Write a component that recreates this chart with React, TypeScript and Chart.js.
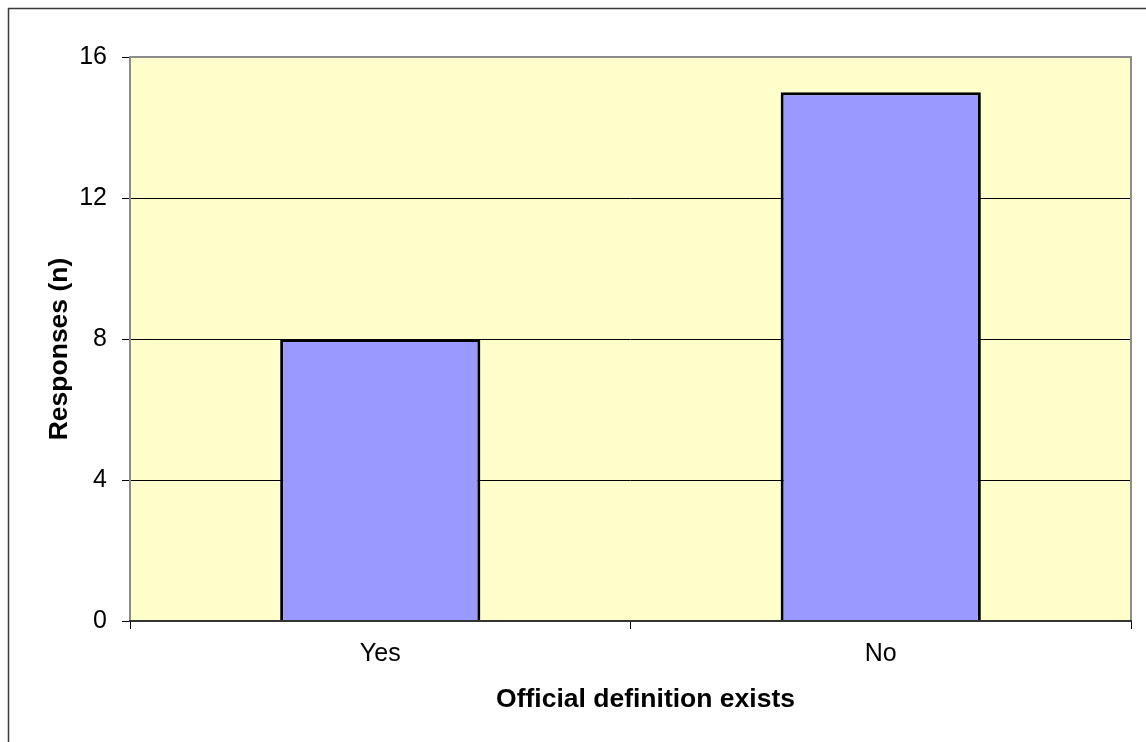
import React, { useEffect, useRef } from "react";
import { Chart, registerables } from "chart.js";

Chart.register(...registerables);

const categories = ["Yes", "No"];
const responses = [8, 15];
const yTicks = [0, 4, 8, 12, 16];
const xTitle = "Official definition exists";
const yTitle = "Responses (n)";

const FONT = "'Liberation Sans', Arial, sans-serif";

const framePlugin = {
  id: "frame",
  beforeDraw(chart: any) {
    const { ctx, chartArea } = chart;
    ctx.save();
    ctx.fillStyle = "#FFFFCC";
    ctx.fillRect(chartArea.left, chartArea.top, chartArea.right - chartArea.left, chartArea.bottom - chartArea.top);
    ctx.strokeStyle = "#3a3a3a";
    ctx.lineWidth = 1.5;
    ctx.beginPath();
    ctx.moveTo(8.5, chart.height + 2);
    ctx.lineTo(8.5, 8.5);
    ctx.lineTo(chart.width + 2, 8.5);
    ctx.stroke();
    ctx.restore();
  },
  afterDatasetsDraw(chart: any) {
    const { ctx, chartArea } = chart;
    const { left, right, top, bottom } = chartArea;
    ctx.save();
    ctx.strokeStyle = "#8c8c8c";
    ctx.lineWidth = 2;
    ctx.beginPath();
    ctx.moveTo(left, bottom);
    ctx.lineTo(left, top);
    ctx.lineTo(right, top);
    ctx.lineTo(right, bottom);
    ctx.stroke();
    ctx.strokeStyle = "#333333";
    ctx.beginPath();
    ctx.moveTo(left - 1, bottom);
    ctx.lineTo(right + 1, bottom);
    ctx.stroke();
    // axis titles
    ctx.fillStyle = "#000000";
    ctx.font = `bold 26.5px ${FONT}`;
    ctx.textAlign = "center";
    ctx.textBaseline = "middle";
    ctx.fillText(xTitle, (left + right) / 2 + 15, 700);
    ctx.translate(60, (top + bottom) / 2 + 10);
    ctx.rotate(-Math.PI / 2);
    ctx.fillText(yTitle, 0, 0);
    ctx.restore();
  },
};

export default function App() {
  const ref = useRef<HTMLCanvasElement | null>(null);
  useEffect(() => {
    if (!ref.current) return;
    const chart = new Chart(ref.current, {
      type: "bar",
      data: {
        labels: categories,
        datasets: [
          {
            data: responses,
            backgroundColor: "#9999FF",
            borderColor: "#000000",
            borderWidth: 3,
            categoryPercentage: 1,
            barPercentage: 0.4,
          },
        ],
      },
      options: {
        animation: false,
        responsive: true,
        maintainAspectRatio: false,
        layout: { padding: { left: 0, top: 57, right: 15, bottom: 21 } },
        plugins: { legend: { display: false }, tooltip: { enabled: false } },
        scales: {
          x: {
            offset: true,
            afterFit: (s: any) => {
              s.height = 100;
            },
            grid: {
              offset: true,
              drawOnChartArea: false,
              drawTicks: true,
              tickLength: 8,
              color: "#000000",
              lineWidth: 1,
            },
            border: { display: false },
            ticks: {
              color: "#000000",
              padding: 10,
              font: { family: FONT, size: 25 },
            },
          },
          y: {
            min: 0,
            max: 16,
            afterFit: (s: any) => {
              s.width = 130;
            },
            afterBuildTicks: (s: any) => {
              s.ticks = yTicks.map((v) => ({ value: v }));
            },
            grid: {
              color: "#000000",
              lineWidth: 1,
              drawTicks: true,
              tickLength: 8,
            },
            border: { display: false },
            ticks: {
              color: "#000000",
              padding: 15,
              font: { family: FONT, size: 25 },
            },
          },
        },
      },
      plugins: [framePlugin],
    });
    return () => chart.destroy();
  }, []);
  return (
    <div style={{ position: "fixed", left: 0, top: 0, width: 1146, height: 742, background: "#ffffff" }}>
      <canvas ref={ref} />
    </div>
  );
}
